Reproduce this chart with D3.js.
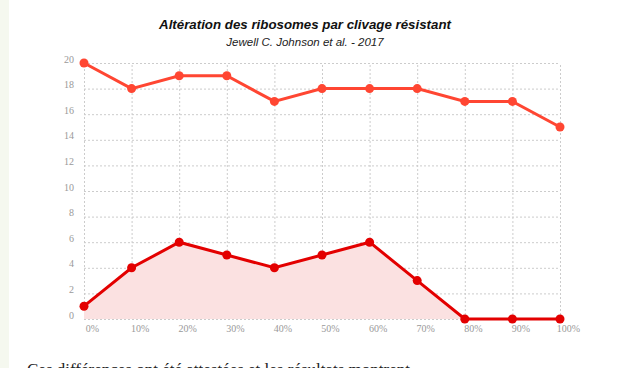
<!DOCTYPE html>
<html>
<head>
<meta charset="utf-8">
<script src="https://cdn.jsdelivr.net/npm/d3@7"></script>
<style>
  body { margin: 0; background: #fff; overflow: hidden; }
  .strip { position: absolute; left: 0; top: 0; width: 9px; height: 368px; background: #f5f8ef; }
  .axis text { font-family: Georgia, "Liberation Serif", serif; font-size: 10px; fill: #999; }
  .axis .domain { display: none; }
  .axis line { stroke: #ccc; stroke-dasharray: 2,2; }
  .title { font-family: "Liberation Sans", Arial, sans-serif; font-weight: bold; font-style: italic; font-size: 13.3px; fill: #111; }
  .subtitle { font-family: "Liberation Sans", Arial, sans-serif; font-style: italic; font-size: 11.5px; fill: #222; }
  .body-text { font-family: Georgia, "Liberation Serif", serif; font-size: 17px; fill: #222; }
</style>
</head>
<body>
<div class="strip"></div>
<svg id="canvas" width="640" height="368"></svg>
<script>

var categories = ["0%","10%","20%","30%","40%","50%","60%","70%","80%","90%","100%"];
var topValues = [20,18,19,19,17,18,18,18,17,17,15];
var bottomValues = [1,4,6,5,4,5,6,3,0,0,0];
var yTicks = [0,2,4,6,8,10,12,14,16,18,20];

var svg = d3.select("#canvas");

var margin = {left: 84, top: 63},
    width = 476,
    height = 256;

var g = svg.append("g")
  .attr("transform", "translate(" + margin.left + "," + margin.top + ")");

var x = d3.scalePoint().domain(categories).range([0, width]);
var y = d3.scaleLinear().domain([0, 20]).range([height, 0]);

// grid + labels
g.append("g")
  .attr("class", "y axis")
  .call(d3.axisLeft(y).tickValues(yTicks).tickSize(-width).tickPadding(10))
  .selectAll("text")
  .attr("dy", "-0.1em");

g.append("g")
  .attr("class", "x axis")
  .attr("transform", "translate(0," + height + ")")
  .call(d3.axisBottom(x).tickSize(-height).tickPadding(6))
  .selectAll("text")
  .attr("dx", 8);

// area under the lower series
g.append("path")
  .datum(bottomValues)
  .attr("fill", "#fbe1e1")
  .attr("d", d3.area()
    .x(function(d,i) { return x(categories[i]); })
    .y0(height)
    .y1(function(d) { return y(d); }));

var line = d3.line()
  .x(function(d,i) { return x(categories[i]); })
  .y(function(d) { return y(d); });

var series = [
  {values: topValues, color: "#ff4632"},
  {values: bottomValues, color: "#e30000"}
];

series.forEach(function(s) {
  g.append("path")
    .datum(s.values)
    .attr("fill", "none")
    .attr("stroke", s.color)
    .attr("stroke-width", 3)
    .attr("d", line);

  g.selectAll(null)
    .data(s.values)
    .enter()
    .append("circle")
    .attr("cx", function(d,i) { return x(categories[i]); })
    .attr("cy", function(d) { return y(d); })
    .attr("r", 4.5)
    .attr("fill", s.color);
});

svg.append("text")
  .attr("class", "title")
  .attr("x", 305)
  .attr("y", 29)
  .attr("text-anchor", "middle")
  .text("Altération des ribosomes par clivage résistant");

svg.append("text")
  .attr("class", "subtitle")
  .attr("x", 305)
  .attr("y", 46)
  .attr("text-anchor", "middle")
  .text("Jewell C. Johnson et al. - 2017");

// paragraph below the chart, cut by the bottom edge as in the page
svg.append("text")
  .attr("class", "body-text")
  .attr("x", 27)
  .attr("y", 375)
  .text("Ces différences ont été attestées et les résultats montrent");

</script>
</body>
</html>
